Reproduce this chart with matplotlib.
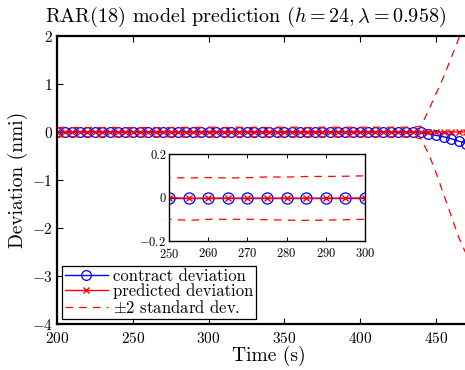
import numpy as np
import matplotlib
matplotlib.use("Agg")
import matplotlib.pyplot as plt

# --- Daten ---
zeit = [200, 205, 210, 215, 220, 225, 230, 235, 240, 245,
        250, 255, 260, 265, 270, 275, 280, 285, 290, 295,
        300, 305, 310, 315, 320, 325, 330, 335, 340, 345,
        350, 355, 360, 365, 370, 375, 380, 385, 390, 395,
        400, 405, 410, 415, 420, 425, 430, 435, 440, 445,
        450, 455, 460, 465, 470]

kontrakt = [0.0, 0.0, 0.0, 0.0, 0.0, 0.0, 0.0, 0.0, 0.0, 0.0,
            0.0, 0.0, 0.0, 0.0, 0.0, 0.0, 0.0, 0.0, 0.0, 0.0,
            0.0, 0.0, 0.0, 0.0, 0.0, 0.0, 0.0, 0.0, 0.0, 0.0,
            0.0, 0.0, 0.0, 0.0, 0.0, 0.0, 0.0, 0.0, 0.0, 0.0,
            0.0, 0.0, 0.0, 0.0, 0.0, 0.0, 0.0, 0.0, -0.01, -0.04,
            -0.07, -0.10, -0.14, -0.19, -0.24]

vorhersage = [0.0, 0.0, 0.0, 0.0, 0.0, 0.0, 0.0, 0.0, 0.0, 0.0,
              0.0, -0.004, -0.003, -0.003, -0.003, -0.003, -0.003, -0.003, -0.003, -0.003,
              -0.002, 0.0, 0.0, 0.0, 0.0, 0.0, 0.0, 0.0, 0.0, 0.0,
              0.0, 0.0, 0.0, 0.0, 0.0, 0.0, 0.0, 0.0, 0.0, 0.0,
              0.0, 0.0, 0.0, 0.0, 0.0, 0.0, 0.0, 0.0, 0.0, 0.0,
              0.0, 0.0, 0.0, 0.0, 0.0]

std_oben = [0.09, 0.10, 0.09, 0.10, 0.09, 0.10, 0.09, 0.10, 0.09, 0.09,
            0.092, 0.090, 0.092, 0.090, 0.091, 0.095, 0.094, 0.097, 0.097, 0.098,
            0.100, 0.10, 0.09, 0.10, 0.10, 0.09, 0.10, 0.10, 0.09, 0.10,
            0.10, 0.10, 0.10, 0.09, 0.10, 0.10, 0.10, 0.10, 0.10, 0.10,
            0.10, 0.10, 0.10, 0.10, 0.10, 0.10, 0.10, 0.10, 0.12, 0.45,
            0.80, 1.15, 1.55, 1.95, 2.35]

std_unten = [-0.10, -0.10, -0.10, -0.10, -0.10, -0.10, -0.10, -0.10, -0.10, -0.10,
             -0.100, -0.105, -0.100, -0.100, -0.100, -0.102, -0.104, -0.105, -0.104, -0.102,
             -0.100, -0.10, -0.10, -0.10, -0.10, -0.10, -0.10, -0.10, -0.10, -0.10,
             -0.10, -0.10, -0.10, -0.10, -0.10, -0.10, -0.10, -0.10, -0.10, -0.10,
             -0.10, -0.10, -0.10, -0.10, -0.10, -0.10, -0.10, -0.10, -0.14, -0.45,
             -0.85, -1.30, -1.75, -2.20, -2.55]

# --- Stil (LaTeX-ähnlich) ---
plt.rcParams["font.family"] = "serif"
plt.rcParams["font.serif"] = ["cmr10", "DejaVu Serif"]
plt.rcParams["mathtext.fontset"] = "cm"
plt.rcParams["axes.formatter.use_mathtext"] = True
plt.rcParams["xtick.direction"] = "in"
plt.rcParams["ytick.direction"] = "in"

fig = plt.figure(figsize=(4.65, 3.7), dpi=100)
ax = fig.add_axes([0.1226, 0.1243, 0.913, 0.7784])


def zeichne(achse, ms_o, ms_x):
    achse.plot(zeit, kontrakt, color="blue", marker="o", markersize=ms_o,
               markerfacecolor="none", markeredgewidth=0.9, linewidth=1.0,
               label="contract deviation")
    achse.plot(zeit, vorhersage, color="red", marker="x", markersize=ms_x,
               linewidth=1.0, label="predicted deviation")
    achse.plot(zeit, std_oben, color="red", linestyle=(0, (6, 5)),
               linewidth=0.9, label=r"$\pm 2$ standard dev.")
    achse.plot(zeit, std_unten, color="red", linestyle=(0, (6, 5)),
               linewidth=0.9)


zeichne(ax, 7, 5)
ax.set_xlim(200, 480)
ax.set_ylim(-4, 2)
ax.set_xticks([200, 250, 300, 350, 400, 450])
ax.set_yticks([-4, -3, -2, -1, 0, 1, 2])
ax.tick_params(labelsize=11, top=True, right=True, length=4, width=0.8, pad=3)
ax.tick_params(axis="x", pad=5)
for sp in ax.spines.values():
    sp.set_linewidth(1.6)
ax.set_xlabel("Time (s)", fontsize=14, labelpad=0)
ax.set_ylabel("Deviation (nmi)", fontsize=14, labelpad=3)
fig.text(0.529, 0.955, r"RAR(18) model prediction ($h = 24, \lambda = 0.958$)",
         fontsize=14.5, ha="center", va="center")

leg = ax.legend(loc="lower left", bbox_to_anchor=(0.012, 0.018),
                borderaxespad=0, fontsize=12, handlelength=2.6,
                fancybox=False, framealpha=1, edgecolor="black",
                borderpad=0.15, labelspacing=0.0, handletextpad=0.3)
leg.get_frame().set_linewidth(0.9)

# --- Ausschnitt ---
axi = fig.add_axes([0.3634, 0.3486, 0.4215, 0.235])
zeichne(axi, 8, 5)
axi.set_xlim(250, 300)
axi.set_ylim(-0.2, 0.2)
axi.set_xticks([250, 260, 270, 280, 290, 300])
axi.set_yticks([-0.2, 0, 0.2])
axi.set_yticklabels([r"$-0.2$", "0", "0.2"])
axi.tick_params(labelsize=9, top=True, right=True, length=3, width=0.7, pad=2)
axi.tick_params(axis="x", pad=4)
for sp in axi.spines.values():
    sp.set_linewidth(1.0)

fig.savefig("out.png", dpi=100)
